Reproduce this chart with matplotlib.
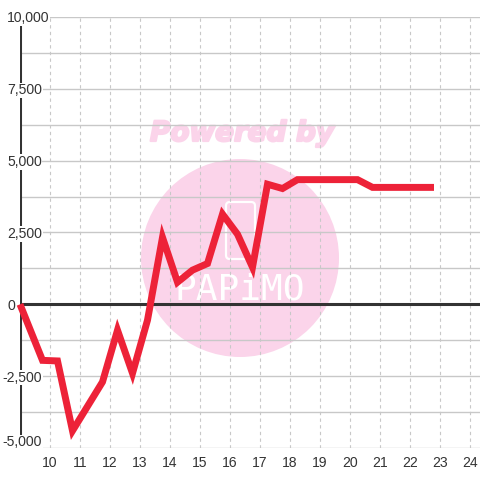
import numpy as np
import matplotlib
matplotlib.use("Agg")
import matplotlib.pyplot as plt
from matplotlib.patches import Circle, FancyBboxPatch
import matplotlib.patheffects as pe
import matplotlib.transforms as mtransforms

# data
x_vals = [9.0, 9.75, 10.25, 10.75, 11.75, 12.25, 12.75, 13.25, 13.75, 14.25,
          14.75, 15.25, 15.75, 16.25, 16.75, 17.25, 17.75, 18.25, 20.25, 20.75, 22.8]
y_vals = [0, -1950, -1970, -4400, -2700, -900, -2400, -550, 2330, 770,
          1190, 1420, 3140, 2440, 1290, 4180, 4030, 4340, 4340, 4070, 4070]

y_ticks = [10000, 7500, 5000, 2500, 0, -2500, -5000]
x_ticks = list(range(10, 25))

plt.rcParams['font.family'] = ['Liberation Sans', 'DejaVu Sans']
dark = '#333333'
grid_c = '#c8c8c8'
red = '#ED2238'
pink = '#FBD4EA'

fig = plt.figure(figsize=(4.8, 4.8), dpi=100)
ax = fig.add_axes([20 / 480, 32 / 480, 460 / 480, 431 / 480])
ax.set_xlim(9, 9 + 460 / 30)
ax.set_ylim(-5000, 10000)
for s in ax.spines.values():
    s.set_visible(False)

# watermark (behind the grid)
ax.add_patch(Circle((240 / 480, 1 - 258 / 480), 99 / 480, transform=fig.transFigure,
                    facecolor=pink, edgecolor='none', zorder=0.2, clip_on=False))
ax.text(242 / 480, 1 - 133 / 480, 'Powered by', transform=fig.transFigure,
        ha='center', va='center', color=pink, fontsize=20, fontweight='bold',
        style='italic', family='DejaVu Sans', zorder=0.2,
        path_effects=[pe.withStroke(linewidth=1.6, foreground=pink)])
ax.text(240 / 480, 1 - 289 / 480, 'PAPiMO', transform=fig.transFigure,
        ha='center', va='center', color='white', fontsize=26,
        family='DejaVu Sans Mono', zorder=0.3)
ax.add_patch(FancyBboxPatch((226 / 480, 1 - 259 / 480), 29 / 480, 57 / 480,
                            boxstyle='round,pad=0,rounding_size=0.008',
                            transform=fig.transFigure, facecolor='none',
                            edgecolor='white', lw=1.6, zorder=0.3, clip_on=False))

# grid
ax.set_yticks(np.arange(-5000, 10001, 1250))
ax.set_xticks(x_ticks)
ax.set_yticklabels([])
ax.grid(axis='y', color=grid_c, lw=1, ls='-', zorder=1)
ax.grid(axis='x', color=grid_c, lw=0.8, ls=(0, (3, 3)), zorder=1)
ax.set_axisbelow(True)
ax.tick_params(axis='both', length=0)
ax.tick_params(axis='x', pad=5.5, labelsize=10.1, labelcolor=dark)

# zero line and left axis
ax.axhline(0, color=dark, lw=2.2, zorder=2)
ax.axvline(9, color=dark, lw=2.2, zorder=2)

# series
ax.plot(x_vals, y_vals, color=red, lw=5.0, solid_joinstyle='miter',
        solid_capstyle='butt', zorder=3, clip_on=False)

# y labels with white background over the axis line
trans = mtransforms.blended_transform_factory(ax.transAxes, ax.transData)
for v in y_ticks:
    off_x = -17.5 if v < 0 else -13
    off_y = 7 if v == min(y_ticks) else 0
    ax.annotate(f'{v:,}', xy=(0, v), xycoords=trans, xytext=(off_x, off_y),
                textcoords='offset pixels', ha='left', va='center_baseline',
                fontsize=10.1, color=dark, zorder=5,
                bbox=dict(facecolor='white', edgecolor='none', pad=0.5))

fig.savefig('out.png', dpi=100, facecolor='white')
